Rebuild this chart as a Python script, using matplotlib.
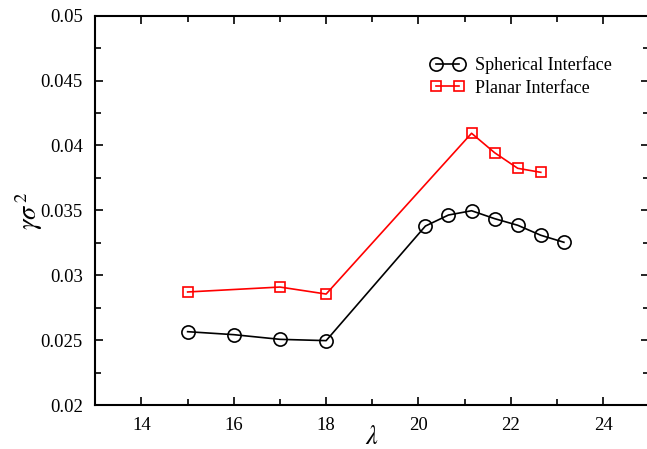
import matplotlib
matplotlib.use("Agg")
import matplotlib.pyplot as plt
from matplotlib.ticker import MultipleLocator

plt.rcParams["font.family"] = ["Liberation Serif", "DejaVu Serif"]
plt.rcParams["mathtext.fontset"] = "stix"

# data
lam_sph = [15, 16, 17, 18, 20.15, 20.65, 21.15, 21.65, 22.15, 22.65, 23.15]
gam_sph = [0.02565, 0.02542, 0.02506, 0.02496, 0.03379, 0.03464, 0.03497,
           0.03436, 0.03385, 0.03308, 0.03254]
lam_pla = [15, 17, 18, 21.15, 21.65, 22.15, 22.65]
gam_pla = [0.02871, 0.02909, 0.02855, 0.04094, 0.03944, 0.03824, 0.03793]

fig = plt.figure(figsize=(6.47, 4.49), dpi=100)
# right spine sits just past the image edge, as in the reference
ax = fig.add_axes([95.3 / 647, 1 - 405 / 449, 554 / 647, 389.3 / 449])

ax.plot(lam_sph, gam_sph, color="black", lw=1.2, marker="o", ms=9.5,
        mfc="none", mew=1.2, label="Spherical Interface")
ax.plot(lam_pla, gam_pla, color="red", lw=1.2, marker="s", ms=7.5,
        mfc="none", mew=1.2, label="Planar Interface")

ax.set_xlim(13, 25)
ax.set_ylim(0.02, 0.05)
ax.xaxis.set_major_locator(MultipleLocator(2))
ax.xaxis.set_minor_locator(MultipleLocator(1))
ax.yaxis.set_major_locator(MultipleLocator(0.005))
ax.yaxis.set_minor_locator(MultipleLocator(0.0025))
ax.yaxis.set_major_formatter(plt.FuncFormatter(lambda v, p: f"{v:g}"))
ax.tick_params(which="both", direction="in", top=True, right=True,
               width=1.2, labelsize=13.5)
ax.tick_params(which="major", length=6)
ax.tick_params(which="minor", length=4)
ax.tick_params(axis="y", pad=9)
ax.tick_params(axis="x", pad=9)
for s in ax.spines.values():
    s.set_linewidth(1.5)

ax.set_xlabel(r"$\lambda$", fontsize=19, labelpad=-6)
ax.set_ylabel(r"$\gamma\sigma^{\,2}$", fontsize=19, labelpad=-3)

ax.legend(loc="upper left", bbox_to_anchor=(0.575, 0.937), frameon=False,
          numpoints=2, fontsize=13, handlelength=1.9, handletextpad=0.6,
          labelspacing=0.3)

fig.savefig("out.png", dpi=100)
